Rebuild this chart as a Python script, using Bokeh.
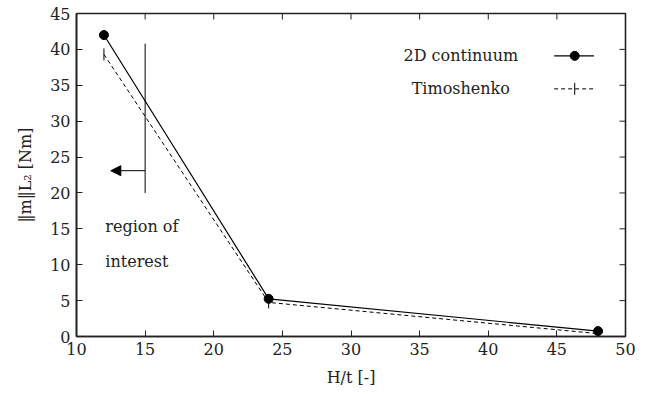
import numpy as np
from bokeh.plotting import figure
from bokeh.models import Range1d, FixedTicker, Arrow, NormalHead
from bokeh.core.properties import value
from bokeh.embed import file_html
from bokeh.resources import INLINE

# data
ht = [12, 24, 48]
continuum = [42.0, 5.25, 0.75]
timoshenko = [39.3, 4.75, 0.4]

# annotation ("region of interest") in data units
roi_x = 15
roi_y = [20.0, 40.8]
arrow_y = 23.1
arrow_end_x = 12.5
roi_text = ["region of", "interest"]
roi_text_y = [15.3, 10.4]
roi_text_x = 12.1

legend_labels = ["2D continuum", "Timoshenko"]
legend_y = [39.1, 34.5]
legend_text_x = 38.0
legend_sample_x = [44.8, 47.7]
legend_marker_x = 46.3

x_ticks = list(range(10, 51, 5))
y_ticks = list(range(0, 46, 5))
x_min, x_max = 10, 50
y_min, y_max = 0, 45

FONT = "DejaVu Serif"
INK = "#222222"

p = figure(output_backend="svg", toolbar_location=None,
           frame_width=549, frame_height=323,
           x_range=Range1d(x_min, x_max), y_range=Range1d(y_min, y_max),
           min_border_left=76, min_border_top=13, min_border_right=20, min_border_bottom=0)
p.grid.visible = False
p.background_fill_color = "white"
p.outline_line_color = INK
p.outline_line_width = 1.6

for ax in (p.xaxis[0], p.yaxis[0]):
    ax.major_tick_in = 6
    ax.major_tick_out = 0
    ax.minor_tick_in = 0
    ax.minor_tick_out = 0
    ax.axis_line_width = 1.6
    ax.axis_line_color = INK
    ax.major_tick_line_color = INK
    ax.major_label_text_font = FONT
    ax.major_label_text_font_size = "16px"
    ax.major_label_text_color = INK
    ax.axis_label_text_font = FONT
    ax.axis_label_text_font_size = "16px"
    ax.axis_label_text_font_style = "normal"
    ax.axis_label_text_color = INK

p.xaxis[0].ticker = FixedTicker(ticks=x_ticks)
p.yaxis[0].ticker = FixedTicker(ticks=y_ticks)
p.xaxis[0].axis_label = "H/t [-]"
p.yaxis[0].axis_label = "‖m‖L₂ [Nm]"
p.xaxis[0].major_label_standoff = 6
p.yaxis[0].major_label_standoff = 6
p.xaxis[0].axis_label_standoff = 10
p.yaxis[0].axis_label_standoff = 12

# inward ticks on the top and right frame edges
p.ray(x=x_ticks[1:-1], y=[y_max] * (len(x_ticks) - 2), length=6, length_units="screen",
      angle=-np.pi / 2, line_color=INK, line_width=1)
p.ray(x=[x_max] * (len(y_ticks) - 2), y=y_ticks[1:-1], length=6, length_units="screen",
      angle=np.pi, line_color=INK, line_width=1)

# series
p.line(ht, continuum, line_color="black", line_width=1.2)
p.scatter(ht, continuum, marker="circle", size=9, fill_color="black", line_color="black")
p.line(ht, timoshenko, line_color="black", line_width=1.0, line_dash="4 3")
p.scatter(ht, timoshenko, marker="dash", angle=np.pi / 2, size=12, line_color="black", line_width=1.0)

# region of interest
p.line([roi_x, roi_x], roi_y, line_color="black", line_width=1.0)
p.add_layout(Arrow(end=NormalHead(size=10, fill_color="black", line_color="black"),
                   x_start=roi_x, y_start=arrow_y, x_end=arrow_end_x, y_end=arrow_y,
                   line_color="black", line_width=1.0))
p.text(x=[roi_text_x] * 2, y=roi_text_y, text=roi_text,
       text_font=value(FONT), text_font_size="16px", text_baseline="middle",
       text_align="left", text_color=INK)

# legend (label then sample)
p.text(x=[legend_text_x] * 2, y=legend_y, text=legend_labels,
       text_font=value(FONT), text_font_size="16px", text_baseline="middle",
       text_align="center", text_color=INK)
p.line(legend_sample_x, [legend_y[0]] * 2, line_color="black", line_width=1.2)
p.scatter([legend_marker_x], [legend_y[0]], marker="circle", size=9, fill_color="black", line_color="black")
p.line(legend_sample_x, [legend_y[1]] * 2, line_color="black", line_width=1.0, line_dash="4 3")
p.scatter([legend_marker_x], [legend_y[1]], marker="dash", angle=np.pi / 2, size=12, line_color="black")

open("out.html", "w").write(file_html(p, INLINE))
